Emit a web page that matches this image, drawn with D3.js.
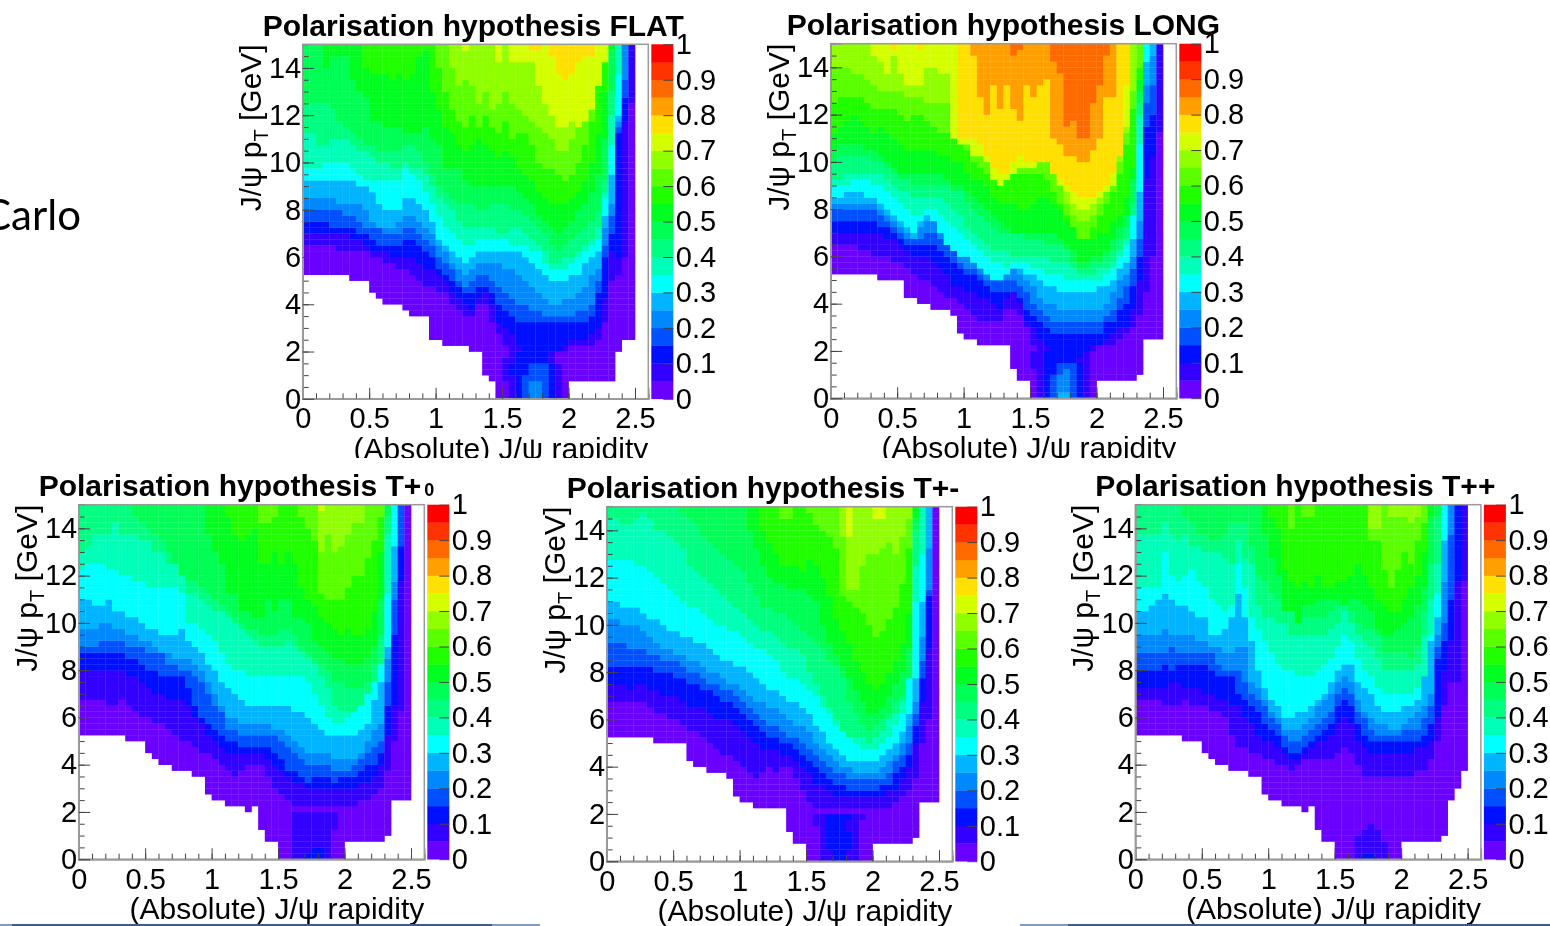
<!DOCTYPE html>
<html>
<head>
<meta charset="utf-8">
<script src="https://cdn.jsdelivr.net/npm/d3@7"></script>
<style>
  html, body { margin: 0; background: #fff; overflow: hidden; }
  svg { display: block; filter: blur(0.4px); }
  text { font-family: "Liberation Sans", Arial, sans-serif; fill: #000; }
  .title { font-weight: bold; font-size: 30px; }
  .axis-title { font-size: 30px; }
  .axis text { font-size: 29px; }
  .axis path { stroke: #9a9a9a; stroke-width: 1.5px; fill: none; }
  .axis line { stroke: #444; stroke-width: 1px; }
</style>
</head>
<body>
<div id="plot"></div>
<script>
// rapidity bins are 0.05 wide, pT bins 0.25 GeV. each row below is one colour level,
// holding per rapidity column the pT bin where that level starts (60 = never reached)
var xBinWidth = 0.05, yBinWidth = 0.25, nCols = 50, nRows = 60;

var paletteColors = ["#6a00ff","#3300ff","#0010ff","#0050ff","#0088ff","#00b4ff","#00ffff","#00ffb8","#00ff80","#00ff55",
  "#00ff20","#20ff00","#5aff00","#90ff00","#d4ff00","#ffe000","#ffa000","#ff6a00","#ff3300","#ff0000"];

var xMajor = [0,0.5,1,1.5,2,2.5];
var xMinor = [0,0.1,0.2,0.3,0.4,0.5,0.6,0.7,0.8,0.9,1,1.1,1.2,1.3,1.4,1.5,1.6,1.7,1.8,1.9,2,2.1,2.2,2.3,2.4,2.5,2.6];
var yMajor = [0,2,4,6,8,10,12,14];
var yMinor = [0,0.5,1,1.5,2,2.5,3,3.5,4,4.5,5,5.5,6,6.5,7,7.5,8,8.5,9,9.5,10,10.5,11,11.5,12,12.5,13,13.5,14,14.5,15];
var zTicks = [0,0.1,0.2,0.3,0.4,0.5,0.6,0.7,0.8,0.9,1];

var flatEdges = [
[21,21,21,21,21,21,21,20,20,20,18,17,16,16,16,15,14,14,14,10,10,9,9,9,9,8,8,4,3,0,0,0,0,0,0,0,0,0,0,0,3,3,3,3,3,3,3,8,10,10],
[26,26,26,26,26,25,25,25,25,25,24,24,23,23,22,22,21,20,19,19,18,18,16,15,14,14,16,16,13,11,9,8,8,8,8,8,8,8,8,8,9,9,9,9,10,13,20,21,24,50],
[28,28,28,28,28,28,28,27,27,26,25,25,25,24,24,24,24,23,22,22,21,20,18,17,16,15,17,18,16,13,12,11,9,8,8,8,8,8,8,9,10,10,10,11,12,17,25,24,47,60],
[30,30,30,30,29,29,29,29,28,28,27,26,26,26,26,27,27,26,25,24,22,21,20,19,18,18,19,19,18,16,15,14,13,13,13,13,13,13,13,13,13,13,13,14,18,24,28,45,51,60],
[32,32,32,32,32,32,31,31,30,29,29,29,28,28,28,29,29,28,27,26,24,23,22,20,19,20,21,21,20,19,18,17,16,16,15,15,14,14,14,14,14,15,15,16,20,26,31,46,54,60],
[34,34,34,34,34,33,33,33,33,32,30,29,29,29,30,31,31,30,29,28,26,25,23,22,21,22,23,23,23,23,22,22,21,20,19,18,17,16,16,17,17,18,19,21,22,29,33,47,60,60],
[37,37,37,37,37,37,37,37,36,36,35,33,32,32,32,34,34,33,32,30,27,26,25,24,23,24,25,25,25,25,25,25,25,24,23,22,21,20,20,20,21,21,23,24,25,31,38,48,60,60],
[39,39,39,40,40,40,40,39,38,37,37,37,37,37,37,39,38,37,35,33,31,29,28,27,26,26,27,27,27,27,27,26,26,26,25,25,23,22,22,22,23,24,25,26,27,34,43,55,60,60],
[45,45,43,43,44,44,44,43,42,42,41,40,40,39,39,40,39,39,38,36,34,33,32,30,29,29,29,29,29,28,28,29,29,28,27,26,25,23,23,24,24,25,26,27,29,35,48,60,60,60],
[50,50,50,50,49,47,46,45,44,43,43,42,42,42,42,43,43,42,40,38,36,35,34,33,33,33,32,32,33,33,33,32,32,31,30,29,28,26,25,26,27,28,29,30,32,37,52,60,60,60],
[60,60,60,56,58,58,58,54,52,51,47,47,46,46,46,45,45,45,46,44,43,39,39,39,37,36,36,36,36,36,36,36,35,34,33,31,30,29,28,29,30,32,33,35,38,44,59,60,60,60],
[60,60,60,60,60,60,60,60,60,56,55,55,55,54,55,54,55,58,59,52,49,46,45,43,42,43,44,43,42,41,42,41,39,38,37,35,34,33,33,33,34,35,37,40,45,52,60,60,60,60],
[60,60,60,60,60,60,60,60,60,60,60,60,60,60,60,60,60,60,60,60,56,52,49,47,46,48,46,48,46,45,47,44,45,45,43,40,39,39,38,37,38,40,43,47,53,60,60,60,60,60],
[60,60,60,60,60,60,60,60,60,60,60,60,60,60,60,60,60,60,60,60,60,60,56,53,54,53,50,52,49,50,52,50,49,48,47,46,45,44,42,42,44,46,48,53,58,60,60,60,60,60],
[60,60,60,60,60,60,60,60,60,60,60,60,60,60,60,60,60,60,60,60,60,60,60,60,59,60,60,60,60,57,60,57,57,57,57,53,50,48,46,46,47,46,47,49,53,57,60,60,60,60],
[60,60,60,60,60,60,60,60,60,60,60,60,60,60,60,60,60,60,60,60,60,60,60,60,60,60,60,60,60,60,60,60,60,60,59,59,60,58,55,54,55,57,58,58,60,60,60,60,60,60]
];
// the bottom pocket around rapidity 1.45-2 does not rise with pT, so its levels are listed per row (columns 29-39)
var flatLow = ["00123443210","00123443210","00123443210","01123333210","01222333210","01222333210","01122222100","00122222100"];

var longEdges = [
[21,21,21,21,21,21,21,20,20,20,20,17,17,16,16,15,15,15,14,11,10,10,9,9,9,9,9,5,3,3,0,0,0,0,0,0,0,0,0,0,3,3,3,3,3,3,4,10,10,10],
[26,26,26,26,25,25,24,24,24,23,23,22,21,20,20,19,18,17,17,16,15,14,13,13,13,13,15,15,14,12,9,8,8,8,8,8,8,8,8,8,9,9,9,10,11,12,14,18,24,45],
[28,28,28,28,28,28,28,28,27,27,26,25,24,24,24,23,22,21,19,19,18,18,17,17,16,15,17,18,16,13,12,10,9,8,8,8,8,8,8,9,9,10,11,12,12,15,20,37,41,60],
[30,30,30,30,30,30,30,29,29,28,27,26,26,26,26,26,25,24,23,22,21,21,20,19,18,18,18,18,17,15,14,13,12,11,11,11,11,11,11,11,11,13,13,15,16,19,24,46,48,60],
[32,32,32,32,32,32,32,31,30,29,28,27,27,27,28,28,27,26,25,23,22,22,21,20,20,20,20,20,19,18,16,15,14,13,13,13,13,13,13,13,13,14,15,17,19,22,27,50,53,60],
[33,33,33,33,33,33,33,32,31,30,29,28,27,29,30,31,29,28,26,25,24,23,22,21,22,22,22,22,21,20,19,17,16,16,15,15,15,15,15,15,15,16,18,20,21,24,30,53,58,60],
[34,34,35,35,35,34,34,33,32,31,30,29,28,30,31,30,28,26,25,24,24,23,22,21,20,20,21,22,22,21,21,20,19,19,18,18,18,18,18,18,19,19,20,22,23,27,35,57,60,60],
[36,36,36,37,37,37,36,36,35,34,33,32,31,31,32,32,31,30,29,28,27,26,25,24,23,23,22,23,23,23,22,22,21,21,21,20,20,20,20,20,20,21,22,24,26,31,43,60,60,60],
[37,37,38,38,38,38,38,38,37,36,35,35,34,34,34,34,34,33,32,31,29,28,27,26,25,25,25,24,24,24,24,24,24,23,23,23,22,21,21,21,22,22,23,25,27,31,48,60,60,60],
[40,41,41,41,41,41,40,40,39,38,37,37,36,36,36,36,36,36,35,35,33,32,31,30,29,28,28,28,28,27,27,27,26,26,26,25,23,22,22,23,23,24,25,27,29,33,50,60,60,60],
[42,43,43,43,43,42,42,41,40,39,38,38,38,38,38,38,38,37,36,36,35,34,33,32,31,30,29,28,28,28,28,28,28,28,27,26,25,23,23,24,24,25,27,29,31,37,52,60,60,60],
[45,46,47,48,47,46,45,46,45,44,43,42,42,42,42,42,41,41,40,40,38,37,37,36,34,33,33,33,32,32,33,34,34,33,32,30,29,28,27,27,28,28,30,31,34,39,54,60,60,60],
[50,51,51,51,51,50,49,49,49,49,48,47,48,48,47,46,45,45,44,43,42,40,39,38,37,36,37,38,38,38,38,38,37,35,33,31,29,27,27,29,31,33,35,38,43,49,56,60,60,60],
[56,56,56,55,55,54,53,52,52,52,52,51,51,51,50,50,50,50,48,46,44,43,41,41,40,40,41,42,42,41,42,42,42,39,36,33,31,30,30,31,33,35,37,40,45,52,60,60,60,60],
[60,60,60,60,60,60,58,57,55,58,55,53,53,53,56,56,55,55,44,43,43,41,41,40,37,36,37,38,39,39,39,40,40,38,36,35,33,32,32,33,34,35,36,41,46,60,60,60,60,60],
[60,60,60,60,60,60,60,60,60,59,60,60,60,59,60,60,60,60,60,44,44,44,43,41,39,38,38,40,41,40,40,40,40,38,37,36,35,34,34,34,35,36,38,41,53,60,60,60,60,60],
[60,60,60,60,60,60,60,60,60,60,60,60,60,60,60,60,60,60,60,60,60,58,51,48,53,49,53,49,47,53,51,53,54,44,43,41,41,40,40,42,44,51,51,60,60,60,60,60,60,60],
[60,60,60,60,60,60,60,60,60,60,60,60,60,60,60,60,60,60,60,60,60,60,60,60,60,60,60,58,59,60,60,60,60,57,55,46,47,44,44,50,53,58,60,60,60,60,60,60,60,60]
];
var longLow = [".0123553210",".0123443210",".0123443210","00123443210","00122343210","01122333210","01122222110","01122222210"];

var tp0Edges = [
[21,21,21,21,21,21,21,20,20,20,18,17,16,16,15,15,15,14,14,11,10,10,9,9,9,8,9,5,3,3,0,0,0,0,0,0,0,0,0,0,3,3,3,3,3,3,4,10,10,10],
[27,27,27,27,26,26,27,26,25,24,24,23,23,22,21,20,20,19,18,18,17,16,15,14,15,16,16,16,14,12,11,10,9,9,9,9,9,9,9,9,9,9,10,10,11,12,15,20,25,60],
[32,32,32,32,32,32,32,31,31,30,29,28,28,27,27,27,26,24,23,21,20,19,18,18,18,18,18,18,17,16,15,14,13,13,12,12,12,12,12,12,12,12,13,13,14,16,21,26,47,60],
[35,35,35,35,35,35,35,34,34,33,32,32,31,31,31,31,29,26,24,23,22,21,20,20,19,19,19,19,19,18,17,15,15,14,13,14,14,14,13,14,14,14,15,16,16,18,26,38,53,60],
[36,36,36,37,37,37,37,36,36,36,35,35,35,33,33,32,32,31,30,28,26,25,22,22,21,21,21,21,21,21,20,19,18,17,16,16,16,16,15,15,15,16,17,18,19,20,30,44,60,60],
[39,39,39,40,40,39,39,38,38,37,37,36,35,35,34,34,34,33,32,30,28,26,24,24,23,23,23,23,23,22,22,21,20,19,18,18,18,18,17,17,17,17,18,20,22,23,34,47,60,60],
[44,44,43,43,44,42,42,41,41,40,39,39,38,38,38,39,37,36,35,33,32,30,29,28,27,26,26,26,26,26,26,26,25,25,24,23,22,21,21,21,21,21,22,23,27,30,36,53,60,60],
[49,50,50,50,49,49,48,48,47,47,46,46,46,46,46,45,40,40,39,38,37,35,33,32,32,31,31,31,31,31,31,31,31,31,30,28,26,24,23,23,24,25,26,28,31,34,45,60,60,60],
[52,53,55,55,55,57,55,55,55,54,54,52,52,50,50,51,45,45,44,43,42,42,41,40,39,38,37,36,36,36,36,37,36,35,34,33,31,29,26,25,25,25,26,28,30,33,55,60,60,60],
[60,60,60,60,60,60,60,60,58,57,56,55,54,52,50,48,47,47,46,45,44,43,42,41,40,39,39,38,38,38,39,39,38,36,35,34,33,32,30,30,29,29,29,30,33,38,58,60,60,60],
[60,60,60,60,60,60,60,60,60,60,60,60,60,60,60,60,60,60,60,55,52,50,45,45,42,42,41,41,44,42,44,44,41,41,40,37,36,35,34,34,33,33,33,34,36,44,60,60,60,60],
[60,60,60,60,60,60,60,60,60,60,60,60,60,60,60,60,60,60,60,60,60,60,58,55,54,55,56,50,50,52,50,52,50,46,44,43,41,40,39,38,39,38,38,39,42,52,60,60,60,60],
[60,60,60,60,60,60,60,60,60,60,60,60,60,60,60,60,60,60,60,60,60,60,60,60,60,60,60,57,57,58,60,60,60,58,56,54,45,44,44,44,46,48,48,51,54,58,60,60,60,60],
[60,60,60,60,60,60,60,60,60,60,60,60,60,60,60,60,60,60,60,60,60,60,60,60,60,60,60,60,60,60,60,60,60,60,60,60,52,55,52,53,55,57,57,60,60,60,60,60,60,60],
[60,60,60,60,60,60,60,60,60,60,60,60,60,60,60,60,60,60,60,60,60,60,60,60,60,60,60,60,60,60,60,60,60,60,60,60,59,60,60,60,60,60,60,60,60,60,60,60,60,60]
];
var tp0Low = [".0011222100",".0011122100",".0011111100","00011111100","00011111100","00011111110","00011111110","00011111110"];

var tpmEdges = [
[21,21,21,21,21,21,21,20,20,20,20,20,17,16,16,15,15,15,14,11,10,10,9,9,9,9,9,5,3,3,0,0,0,0,0,0,0,0,0,0,3,3,3,3,3,3,4,10,10,10],
[27,27,27,27,27,27,26,25,25,24,24,23,22,22,21,20,19,18,18,17,16,15,14,15,16,15,16,16,14,12,10,9,9,9,9,9,9,9,9,9,9,9,9,10,11,12,14,20,24,60],
[30,30,30,29,30,30,29,29,28,28,28,27,26,26,26,25,24,24,24,23,22,21,20,19,19,19,18,18,17,16,15,13,13,12,11,11,11,11,11,11,11,11,12,12,14,16,20,27,36,60],
[33,33,33,33,33,33,33,32,32,32,31,31,30,30,29,29,28,27,27,26,25,24,23,22,21,21,20,20,19,18,17,16,15,14,13,13,12,12,12,12,12,13,13,15,16,18,23,31,45,60],
[37,37,37,36,36,36,35,35,34,34,34,33,32,32,31,30,30,29,29,28,27,26,25,24,23,23,22,21,21,20,19,18,17,16,15,15,14,14,14,14,14,14,15,17,18,20,25,34,46,60],
[41,41,40,40,40,39,38,37,36,36,35,35,34,34,33,32,32,31,30,30,29,28,27,27,26,26,25,24,23,23,22,20,19,18,17,16,16,15,15,15,15,16,17,18,20,23,27,38,53,60],
[44,44,43,43,43,42,41,41,40,39,39,38,38,37,37,36,35,34,34,33,33,32,31,30,29,29,28,27,27,26,25,23,22,20,19,18,17,17,17,17,17,18,19,20,22,25,31,44,60,60],
[51,51,51,51,50,50,49,48,47,46,45,44,43,43,42,41,40,40,39,39,38,37,36,36,35,34,32,31,31,30,29,28,26,25,23,22,21,20,19,19,19,20,21,23,25,32,44,52,60,60],
[58,58,57,57,58,59,58,56,56,55,54,53,50,49,48,47,46,45,44,43,42,41,40,39,39,38,37,36,36,35,32,30,28,26,24,22,21,21,21,20,21,22,24,25,27,31,50,60,60,60],
[60,60,60,60,60,60,60,60,60,60,60,59,58,57,55,54,53,52,51,50,49,47,45,43,43,42,42,41,40,39,38,37,36,34,33,31,27,25,23,22,23,24,25,27,28,31,56,60,60,60],
[60,60,60,60,60,60,60,60,60,60,60,60,60,60,60,60,60,60,60,60,60,56,53,50,48,47,47,46,46,46,45,44,40,37,35,33,31,29,27,25,25,26,28,30,32,36,58,60,60,60],
[60,60,60,60,60,60,60,60,60,60,60,60,60,60,60,60,60,60,60,60,60,60,60,56,54,52,50,50,50,49,51,50,48,45,41,39,37,34,32,30,29,30,32,34,37,42,60,60,60,60],
[60,60,60,60,60,60,60,60,60,60,60,60,60,60,60,60,60,60,60,60,60,60,60,60,60,60,58,58,60,60,59,57,56,55,53,45,44,43,42,40,38,39,41,43,47,53,60,60,60,60],
[60,60,60,60,60,60,60,60,60,60,60,60,60,60,60,60,60,60,60,60,60,60,60,60,60,60,60,60,60,60,60,60,60,60,60,55,46,46,50,52,52,53,54,52,55,58,60,60,60,60],
[60,60,60,60,60,60,60,60,60,60,60,60,60,60,60,60,60,60,60,60,60,60,60,60,60,60,60,60,60,60,60,60,60,60,60,60,55,60,60,60,58,58,60,60,60,60,60,60,60,60]
];
var tpmLow = [".0011221100",".0011221100",".0012222100","00012222100","00012222100","00012221100","00112221100","00112222110"];

var tppEdges = [
[21,21,21,21,21,21,21,20,20,20,18,17,16,16,15,15,15,14,14,11,10,10,9,9,9,8,9,5,3,3,0,0,0,0,0,0,0,0,0,0,3,3,3,3,3,3,4,10,12,15],
[27,27,27,27,26,26,26,27,26,26,26,25,25,24,21,19,19,18,18,17,17,16,16,15,16,17,17,17,17,17,18,19,18,16,14,14,14,14,14,14,14,14,15,15,17,20,26,30,30,47],
[29,29,29,29,29,30,30,29,29,29,28,28,27,27,26,26,24,23,21,20,20,19,18,17,17,18,19,20,20,21,23,24,23,20,19,18,18,18,18,18,18,18,19,19,20,24,32,37,47,60],
[32,32,32,32,33,32,33,33,33,33,33,32,31,31,31,28,27,26,25,23,22,21,19,18,18,19,20,21,22,23,26,27,26,23,21,20,20,20,20,20,20,20,20,21,23,34,37,44,60,60],
[35,35,35,35,35,36,35,35,35,35,35,35,33,32,32,32,30,28,27,26,24,23,21,20,20,21,22,23,24,25,28,29,28,25,24,22,21,21,21,21,22,22,22,24,26,36,40,55,60,60],
[38,38,38,38,39,38,38,38,38,37,37,36,36,35,35,36,36,30,29,27,25,24,22,22,22,23,24,26,27,28,30,31,30,27,25,24,23,23,22,22,23,24,25,26,28,38,47,60,60,60],
[42,42,43,44,45,44,43,43,42,41,41,38,38,39,41,45,41,37,32,29,27,26,24,24,25,25,26,27,28,30,32,33,33,30,29,28,26,25,25,25,26,26,27,31,37,41,54,60,60,60],
[46,46,46,46,52,48,47,48,49,47,46,44,43,42,43,50,46,41,39,37,35,33,32,32,31,31,31,32,33,34,36,38,37,34,32,31,29,28,28,28,28,28,29,31,38,45,60,60,60,60],
[55,55,55,55,57,55,54,55,53,53,52,52,52,51,50,54,51,50,43,41,41,40,40,38,38,38,38,38,38,39,40,42,40,38,37,36,34,32,32,32,32,32,33,38,44,50,60,60,60,60],
[60,60,60,60,60,60,60,58,57,55,55,54,54,55,57,57,57,53,48,47,45,44,43,42,41,41,41,41,41,42,43,44,42,40,39,39,38,35,35,35,35,34,36,42,50,58,60,60,60,60],
[60,60,60,60,60,60,60,60,60,60,60,60,60,60,60,60,60,60,60,55,51,48,42,42,40,43,43,44,44,44,44,43,44,44,43,42,39,38,38,39,40,41,43,46,58,60,60,60,60,60],
[60,60,60,60,60,60,60,60,60,60,60,60,60,60,60,60,60,60,60,60,58,56,49,47,46,47,46,48,46,46,47,47,48,50,48,46,44,43,42,42,44,46,48,52,60,60,60,60,60,60],
[60,60,60,60,60,60,60,60,60,60,60,60,60,60,60,60,60,60,60,60,60,60,60,56,60,58,58,60,60,60,60,60,60,60,60,54,54,49,46,49,52,50,54,57,60,60,60,60,60,60],
[60,60,60,60,60,60,60,60,60,60,60,60,60,60,60,60,60,60,60,60,60,60,60,60,60,60,60,60,60,60,60,60,60,60,60,56,56,60,58,58,58,57,58,60,60,60,60,60,60,60]
];
var tppLow = [".0001221100",".0001111100",".0001111100","00001111000","00000111000","00000010000","00000000000","00000000000"];

var width = 345.6, height = 354.5, paletteGap = 3, paletteWidth = 22;

var panels = [
  { title: "Polarisation hypothesis FLAT", edges: flatEdges, low: flatLow, left: 302.7, top: 44.3, titleX: -40 },
  { title: "Polarisation hypothesis LONG", edges: longEdges, low: longLow, left: 830.7, top: 43.7, titleX: -44 },
  { title: "Polarisation hypothesis T+", small: "0", edges: tp0Edges, low: tp0Low, left: 78.7, top: 504.7, titleX: -40 },
  { title: "Polarisation hypothesis T+-", edges: tpmEdges, low: tpmLow, left: 606.7, top: 506.7, titleX: -40 },
  { title: "Polarisation hypothesis T++", edges: tppEdges, low: tppLow, left: 1135.3, top: 504.7, titleX: -40 }
];

var svg = d3.select("div#plot")
  .append("svg")
    .attr("width", 1550)
    .attr("height", 926);

var xscale = d3.scaleLinear().domain([0, 2.6]).range([0, width]);
var yscale = d3.scaleLinear().domain([0, 15]).range([height, 0]);
var zscale = d3.scaleLinear().domain([0, 1]).range([height, 0]);
var color = d3.scaleOrdinal(d3.range(paletteColors.length), paletteColors);

// turn the level edges into one record per filled cell
function buildCells(edges, low) {
  var cells = [];
  d3.range(nCols).forEach(function(col) {
    d3.range(nRows).forEach(function(row) {
      if (edges[0][col] > row) return;
      var level = 0;
      edges.forEach(function(e, l) { if (e[col] <= row) level = l; });
      if (row < low.length && col >= 29 && col <= 39) {
        var ch = low[row][col - 29];
        if (ch === ".") return;
        level = +ch;
      }
      cells.push({ col: col, row: row, level: level });
    });
  });
  return cells;
}

svg.append("clipPath").attr("id", "topcut")
  .append("rect").attr("x", 0).attr("y", 0).attr("width", 1550).attr("height", 458);

panels.forEach(function(p) {
  var g = svg.append("g")
    .attr("transform", "translate(" + p.left + "," + p.top + ")");

  g.selectAll("rect.cell")
    .data(buildCells(p.edges, p.low))
    .enter().append("rect")
      .attr("class", "cell")
      .attr("x", function(d) { return xscale(d.col * xBinWidth); })
      .attr("y", function(d) { return yscale((d.row + 1) * yBinWidth); })
      .attr("width", xscale(xBinWidth) - xscale(0) + 0.3)
      .attr("height", yscale(0) - yscale(yBinWidth) + 0.3)
      .style("fill", function(d) { return color(d.level); });

  // frame
  g.append("rect")
    .attr("width", width).attr("height", height)
    .style("fill", "none").style("stroke", "#9a9a9a").style("stroke-width", 1.5);

  // minor ticks first, then major with labels
  g.append("g").attr("class", "axis").attr("transform", "translate(0," + height + ")")
    .call(d3.axisBottom(xscale).tickValues(xMinor).tickSize(-5.5).tickFormat(""));
  g.append("g").attr("class", "axis").attr("transform", "translate(0," + height + ")")
    .call(d3.axisBottom(xscale).tickValues(xMajor).tickSize(-11).tickPadding(9).tickFormat(function(d) { return d; }));
  g.append("g").attr("class", "axis")
    .call(d3.axisLeft(yscale).tickValues(yMinor).tickSize(-6).tickFormat(""));
  g.append("g").attr("class", "axis")
    .call(d3.axisLeft(yscale).tickValues(yMajor).tickSize(-11.5).tickPadding(1.5).tickFormat(function(d) { return d; }));

  // palette
  var pal = g.append("g").attr("transform", "translate(" + (width + paletteGap) + ",0)");
  pal.selectAll("rect")
    .data(paletteColors)
    .enter().append("rect")
      .attr("x", 0)
      .attr("y", function(d, i) { return zscale((i + 1) / paletteColors.length); })
      .attr("width", paletteWidth)
      .attr("height", zscale(0) - zscale(1 / paletteColors.length) + 0.3)
      .style("fill", function(d) { return d; });
  var palAxis = pal.append("g").attr("class", "axis")
    .attr("transform", "translate(" + paletteWidth + ",0)")
    .call(d3.axisRight(zscale).tickValues(zTicks).tickSize(-10).tickPadding(2.5).tickFormat(function(d) { return d; }));
  palAxis.select("path").remove();

  // titles
  var title = g.append("text").attr("class", "title")
    .attr("x", p.titleX).attr("y", -8.5).text(p.title);
  if (p.small) {
    title.append("tspan").attr("dx", 3).style("font-size", "18px").text(p.small);
  }

  var textGroup = p.top < 200 ? svg.append("g").attr("clip-path", "url(#topcut)")
      .append("g").attr("transform", "translate(" + p.left + "," + p.top + ")") : g;
  textGroup.append("text").attr("class", "axis-title")
    .attr("x", width).attr("y", height + 60)
    .attr("text-anchor", "end")
    .text("(Absolute) J/\u03c8 rapidity");

  var ytitle = g.append("text").attr("class", "axis-title")
    .attr("transform", "translate(-42,0) rotate(-90)")
    .attr("text-anchor", "end");
  ytitle.append("tspan").text("J/\u03c8 p");
  ytitle.append("tspan").attr("dy", 7).style("font-size", "20px").text("T");
  ytitle.append("tspan").attr("dy", -7).text(" [GeV]");
});

svg.append("text")
  .attr("x", 81).attr("y", 230)
  .attr("text-anchor", "end")
  .style("font-family", "Lato")
  .style("font-size", "42px")
  .text("Carlo");

// slide footer strip along the bottom edge
var footer = [[0, 12, "#7f9cc4"], [12, 480, "#3b5c8c"], [492, 48, "#7f9cc4"], [1020, 48, "#7f9cc4"], [1068, 482, "#3b5c8c"]];
svg.selectAll("rect.footer")
  .data(footer)
  .enter().append("rect")
    .attr("class", "footer")
    .attr("x", function(d) { return d[0]; })
    .attr("y", 924)
    .attr("width", function(d) { return d[1]; })
    .attr("height", 2)
    .style("fill", function(d) { return d[2]; });
</script>
</body>
</html>
